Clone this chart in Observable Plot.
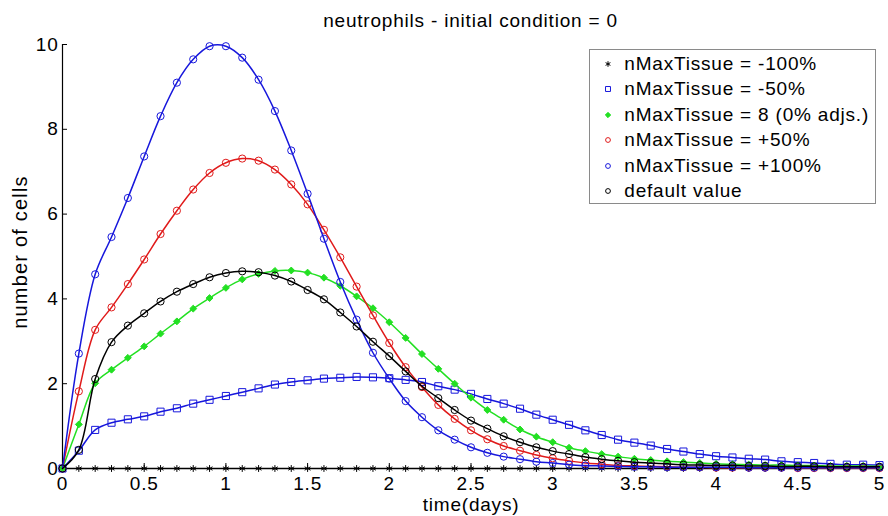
<!DOCTYPE html>
<html>
<head>
<meta charset="utf-8">
<script src="https://cdn.jsdelivr.net/npm/d3@7"></script>
<script src="https://cdn.jsdelivr.net/npm/@observablehq/plot@0.6"></script>
<style>
  body { margin: 0; background: #fff; font-family: "Liberation Sans", Arial, sans-serif; color: #000; }
  #wrap { position: relative; width: 888px; height: 516px; overflow: hidden; background: #fff; }
  #title { box-sizing: border-box; height: 32px; padding: 10px 9px 0 62px; line-height: 22px; font-size: 19px; letter-spacing: 0.8px; text-align: center; white-space: nowrap; }
  #legend { position: absolute; left: 589px; top: 49px; width: 287px; height: 155px; box-sizing: border-box; border: 1px solid #8a8a8a; background: #fff; }
  .row { position: absolute; left: 0; width: 285px; height: 24px; line-height: 24px; font-size: 19px; letter-spacing: 0.8px; white-space: nowrap; }
  .row svg { position: absolute; left: 11.7px; top: 6px; overflow: visible; }
  .row span { position: absolute; left: 34.3px; top: 0; }
</style>
</head>
<body>
<div id="wrap">
  <div id="title">neutrophils - initial condition = 0</div>
  <div id="chart"></div>
  <div id="legend"></div>
</div>
<script>
// time grid (days)
const time = [0, 0.1, 0.2, 0.3, 0.4, 0.5, 0.6, 0.7, 0.8, 0.9, 1.0,
  1.1, 1.2, 1.3, 1.4, 1.5, 1.6, 1.7, 1.8, 1.9, 2.0,
  2.1, 2.2, 2.3, 2.4, 2.5, 2.6, 2.7, 2.8, 2.9, 3.0,
  3.1, 3.2, 3.3, 3.4, 3.5, 3.6, 3.7, 3.8, 3.9, 4.0,
  4.1, 4.2, 4.3, 4.4, 4.5, 4.6, 4.7, 4.8, 4.9, 5.0];

// nMaxTissue = -100%
const minus100 = [0, 0, 0, 0, 0, 0, 0, 0, 0, 0, 0,
  0, 0, 0, 0, 0, 0, 0, 0, 0, 0,
  0, 0, 0, 0, 0, 0, 0, 0, 0, 0,
  0, 0, 0, 0, 0, 0, 0, 0, 0, 0,
  0, 0, 0, 0, 0, 0, 0, 0, 0, 0];

// nMaxTissue = -50%
const minus50 = [0, 0.42, 0.91, 1.08, 1.16, 1.23, 1.34, 1.42, 1.53, 1.62, 1.71,
  1.80, 1.89, 1.98, 2.04, 2.08, 2.12, 2.14, 2.16, 2.15, 2.13,
  2.09, 2.04, 1.94, 1.86, 1.76, 1.64, 1.53, 1.41, 1.27, 1.15,
  1.03, 0.90, 0.79, 0.68, 0.61, 0.54, 0.46, 0.40, 0.34, 0.29,
  0.26, 0.23, 0.21, 0.17, 0.15, 0.13, 0.11, 0.09, 0.09, 0.08];

// nMaxTissue = 8 (0% adjs.)
const adj0 = [0, 1.04, 2.01, 2.33, 2.61, 2.88, 3.18, 3.47, 3.77, 4.02, 4.26,
  4.46, 4.59, 4.66, 4.67, 4.62, 4.50, 4.31, 4.06, 3.78, 3.45,
  3.08, 2.70, 2.35, 2.00, 1.67, 1.38, 1.15, 0.92, 0.75, 0.62,
  0.49, 0.41, 0.34, 0.28, 0.23, 0.20, 0.17, 0.15, 0.13, 0.11,
  0.10, 0.09, 0.08, 0.08, 0.07, 0.07, 0.06, 0.06, 0.06, 0.05];

// nMaxTissue = +50%
const plus50 = [0, 1.82, 3.27, 3.80, 4.35, 4.93, 5.53, 6.08, 6.58, 6.97, 7.21,
  7.31, 7.26, 7.05, 6.70, 6.23, 5.63, 4.98, 4.29, 3.61, 2.96,
  2.39, 1.92, 1.50, 1.17, 0.90, 0.69, 0.53, 0.42, 0.32, 0.24,
  0.18, 0.13, 0.10, 0.07, 0.06, 0.05, 0.04, 0.03, 0.03, 0.02,
  0.02, 0.02, 0.02, 0.02, 0.01, 0.01, 0.01, 0.01, 0.01, 0.01];

// nMaxTissue = +100%
const plus100 = [0, 2.71, 4.58, 5.46, 6.38, 7.36, 8.31, 9.10, 9.65, 9.96, 9.96,
  9.69, 9.17, 8.43, 7.50, 6.48, 5.42, 4.40, 3.51, 2.73, 2.12,
  1.59, 1.21, 0.90, 0.68, 0.50, 0.37, 0.28, 0.22, 0.16, 0.13,
  0.09, 0.07, 0.06, 0.05, 0.04, 0.04, 0.03, 0.03, 0.03, 0.03,
  0.03, 0.02, 0.02, 0.02, 0.02, 0.02, 0.02, 0.02, 0.02, 0.02];

// default value
const defaultValue = [0, 0.44, 2.11, 2.98, 3.37, 3.66, 3.94, 4.17, 4.35, 4.51, 4.61,
  4.65, 4.63, 4.55, 4.41, 4.21, 3.99, 3.68, 3.35, 2.99, 2.65,
  2.29, 1.94, 1.66, 1.38, 1.13, 0.94, 0.76, 0.62, 0.50, 0.41,
  0.34, 0.27, 0.22, 0.18, 0.15, 0.13, 0.11, 0.09, 0.08, 0.07,
  0.07, 0.06, 0.06, 0.05, 0.05, 0.05, 0.04, 0.04, 0.04, 0.04];

const seriesNames = ["nMaxTissue = -100%", "nMaxTissue = -50%", "nMaxTissue = 8 (0% adjs.)",
  "nMaxTissue = +50%", "nMaxTissue = +100%", "default value"];
const xTicks = [0, 0.5, 1, 1.5, 2, 2.5, 3, 3.5, 4, 4.5, 5];
const yTicks = [0, 2, 4, 6, 8, 10];
const xLabel = "time(days)";
const yLabel = "number of cells";

const BLUE = "#1717dc", RED = "#e01a1a", GREEN = "#22e022", BLACK = "#000";
const series = [
  {name: seriesNames[0], values: minus100, color: BLACK, symbol: "asterisk", r: 3.2, fill: "none", lr: 2.6},
  {name: seriesNames[1], values: minus50, color: BLUE, symbol: "square", r: 4.0, fill: "none", lr: 2.8},
  {name: seriesNames[2], values: adj0, color: GREEN, symbol: "diamond2", r: 3.1, fill: GREEN, lr: 2.4},
  {name: seriesNames[3], values: plus50, color: RED, symbol: "circle", r: 3.6, fill: "none", lr: 2.4},
  {name: seriesNames[4], values: plus100, color: BLUE, symbol: "circle", r: 3.6, fill: "none", lr: 2.4},
  {name: seriesNames[5], values: defaultValue, color: BLACK, symbol: "circle", r: 3.6, fill: "none", lr: 2.4}
];
const rows = series.flatMap(s => time.map((t, i) => ({t, v: s.values[i], name: s.name})));

const W = 888, H = 484;
const mL = 62, mR = 9, mT = 12, mB = 48;
const frameW = W - mL - mR, frameH = H - mT - mB;

const marks = [
  Plot.ruleY([0], {stroke: "#000", strokeWidth: 1.2}),
  Plot.ruleX([0], {stroke: "#000", strokeWidth: 1.2}),
  Plot.tickX(xTicks, {x: d => d, insetTop: frameH - 5, stroke: "#000", strokeWidth: 1}),
  Plot.tickY(yTicks, {y: d => d, insetRight: frameW - 5, stroke: "#000", strokeWidth: 1}),
  Plot.axisX(xTicks, {tickSize: 0, tickPadding: 8, tickFormat: d => String(d), label: null, fontSize: 19}),
  Plot.axisY(yTicks, {tickSize: 0, tickPadding: 4, tickFormat: d => String(d), label: null, fontSize: 19}),
  Plot.text([xLabel], {frameAnchor: "bottom", lineAnchor: "middle", textAnchor: "middle", dy: 36, fontSize: 19}),
  Plot.text([yLabel], {frameAnchor: "left", lineAnchor: "middle", textAnchor: "middle", rotate: -90, dx: -42, dy: -4.5, fontSize: 20, letterSpacing: 1.2})
];
for (const s of series) {
  const d = rows.filter(r => r.name === s.name);
  marks.push(Plot.line(d, {x: "t", y: "v", stroke: s.color, strokeWidth: 1.5, curve: "catmull-rom"}));
  marks.push(Plot.dot(d, {x: "t", y: "v", symbol: s.symbol, r: s.r, stroke: s.color, fill: s.fill, strokeWidth: 1}));
}

const chart = Plot.plot({
  width: W, height: H,
  marginLeft: mL, marginRight: mR, marginTop: mT, marginBottom: mB,
  x: {type: "linear", domain: [0, 5]},
  y: {type: "linear", domain: [0, 10]},
  style: {fontFamily: "'Liberation Sans', Arial, sans-serif", fontSize: "19px", letterSpacing: "0.8px", color: "#000", background: "#fff", overflow: "visible"},
  marks
});
document.getElementById("chart").appendChild(chart);
// y label letter spacing
d3.select(chart).selectAll("text").filter(function () { return this.textContent === yLabel; }).style("letter-spacing", "1.2px");

// legend
const legend = d3.select("#legend");
const spacing = 25.4;
const symMap = {asterisk: d3.symbolAsterisk, square: d3.symbolSquare, diamond2: d3.symbolDiamond2, circle: d3.symbolCircle};
series.forEach((s, i) => {
  const row = legend.append("div").attr("class", "row").style("top", (15 + i * spacing - 1 - 12) + "px");
  const svg = row.append("svg").attr("width", 12).attr("height", 12);
  svg.append("path")
    .attr("transform", "translate(6,6)")
    .attr("d", d3.symbol(symMap[s.symbol], Math.PI * s.lr * s.lr)())
    .attr("fill", s.fill)
    .attr("stroke", s.color)
    .attr("stroke-width", 1);
  row.append("span").text(s.name);
});
</script>
</body>
</html>
